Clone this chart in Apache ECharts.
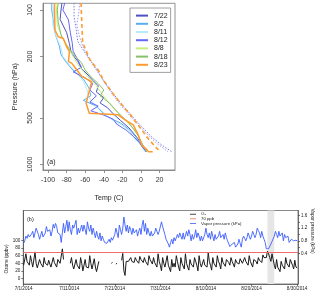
<!DOCTYPE html>
<html><head><meta charset="utf-8">
<script src="https://cdn.jsdelivr.net/npm/echarts@6/dist/echarts.min.js"></script>
<style>html,body{margin:0;padding:0;background:#fff}#c{width:320px;height:296px}</style>
</head><body><div id="c"></div>
<script>
// ---------- Panel (a): temperature profiles ----------
const tempTicks = [-100, -80, -60, -40, -20, 0, 20];
const pressureTicks = [100, 200, 500, 1000];
const profileNames = ['7/22', '8/2', '8/11', '8/12', '8/8', '8/18', '8/23'];
const profileColors = ['#4f4fc4', '#58aef2', '#b4ecfa', '#6666f6', '#c8f07e', '#86bf6a', '#ff9a30'];

const p0722 = [90, 100, 115, 140, 165, 190, 215, 240, 260, 285, 310, 340, 370, 400, 430, 470, 520, 580, 640, 700, 770, 828];
const t0722 = [-85, -86, -87, -80, -77, -75, -68, -64, -58, -52, -46, -48, -40, -44, -36, -30, -22, -13, -7, -2, 2, 5];
const p0802 = [90, 100, 120, 145, 170, 195, 220, 250, 280, 320, 360, 385, 420, 460, 500, 540, 600, 660, 720, 780, 828];
const t0802 = [-96, -96, -94, -92, -88, -86, -80, -72, -62, -56, -54, -62, -48, -42, -34, -22, -12, -6, -1, 3, 6];
const p0811 = [90, 100, 125, 150, 175, 200, 230, 260, 290, 330, 370, 410, 450, 490, 520, 560, 610, 670, 730, 790, 828];
const t0811 = [-93, -94, -95, -91, -86, -84, -76, -68, -62, -58, -56, -50, -42, -36, -30, -20, -12, -8, -2, 2, 4];
const p0812 = [90, 100, 116, 140, 163, 185, 210, 235, 252, 275, 300, 330, 360, 395, 420, 450, 480, 510, 550, 600, 660, 720, 780, 828];
const t0812 = [-82, -84, -78, -76, -74, -73, -68, -64, -73, -60, -52, -55, -48, -55, -46, -54, -40, -30, -26, -16, -8, -2, 2, 6];
const p0808 = [90, 100, 125, 150, 175, 200, 225, 250, 280, 310, 350, 390, 430, 470, 520, 570, 630, 690, 750, 828];
const t0808 = [-90, -91, -90, -85, -78, -73, -68, -62, -55, -48, -42, -36, -30, -24, -17, -10, -5, -1, 2, 7];
const p0818 = [90, 100, 120, 145, 170, 195, 220, 245, 270, 300, 330, 360, 400, 440, 480, 530, 590, 650, 710, 770, 828];
const t0818 = [-89, -90, -89, -86, -80, -72, -64, -60, -54, -46, -40, -44, -34, -28, -22, -14, -8, -3, 0, 3, 6];
const p0823 = [90, 100, 135, 149, 153, 173, 186, 216, 221, 245, 268, 292, 355, 402, 467, 478, 516, 556, 645, 751, 800, 828, 828];
const t0823 = [-93, -93, -92.5, -89, -83.5, -80, -77, -78, -74.5, -69, -64, -53, -56.7, -59, -55.6, -24.4, -17, -8.3, -3, 0.8, 6, 8, 12.6];

const pDashOrange = [90, 116, 163, 211, 245, 284, 350, 423, 480, 542, 600, 662, 740, 828];
const tDashOrange = [-64.5, -63.8, -62.7, -54.8, -46, -40.5, -30, -19, -11, -4.6, 1, 6, 13, 20.4];
const pDot1 = [90, 110, 130, 160, 190, 220, 260, 300, 360, 420, 500, 580, 660, 740, 828];
const tDot1 = [-72, -72, -70, -68, -60, -53, -45, -38, -28, -19, -8, 2, 11, 21, 33];
const pDot2 = [90, 105, 125, 150, 175, 200, 240, 290, 350, 420, 500, 580, 660, 740, 828];
const tDot2 = [-66, -67, -69, -66, -62, -57, -48, -40, -31, -21, -10, 0, 9, 18, 29];

const profP = [p0722, p0802, p0811, p0812, p0808, p0818, p0823];
const profT = [t0722, t0802, t0811, t0812, t0808, t0818, t0823];

// ---------- Panel (b): ozone & vapor pressure, 6-hourly from 7/1/2014 ----------
const dateLabels = ['7/1/2014', '7/11/2014', '7/21/2014', '7/31/2014', '8/10/2014', '8/20/2014', '8/30/2014'];
const dateTickDays = [0, 10, 20, 30, 40, 50, 60];
const ozoneTicks = [0, 20, 40, 60, 80, 100];
const vaporTicks = [0.4, 0.8, 1.2, 1.6];
const vaporMinorTicks = [0.4, 0.6, 0.8, 1.0, 1.2, 1.4, 1.6];
const thresholdPpb = 70;
const shadeStartDay = 53.5, shadeEndDay = 55;
const stepDays = 0.25;
const _ = null;
const ozone = [
35,30,65,45, 40,35,60,45, 30,35,70,40, 28,30,50,40, 35,30,55,40,
40,35,48,38, 30,32,55,42, 38,30,50,45, 40,36,78,50, _,_,_,_,
_,40,55,35, 25,20,50,35, 30,25,55,40, 20,22,50,30, 35,28,60,40,
25,20,52,30, 18,15,45,_, _,_,_,_, _,_,_,_, _,40,42,_,
_,38,40,_, _,_,48,66, 20,8,45,50, 45,40,55,45, 50,42,55,48,
45,40,58,50, 48,42,55,45, 40,35,60,50, 45,38,55,42, 40,30,65,45,
35,20,55,40, 30,25,60,35, 35,18,50,30, 40,30,60,45, 30,20,55,40,
35,25,65,40, 30,22,50,38, 40,30,55,45, 35,20,60,40, 30,25,50,35,
40,30,68,45, 35,22,55,40, 40,30,60,45, 38,25,55,42, 40,32,50,45,
42,35,55,45, 40,30,50,42, 45,38,52,48, 40,35,55,45, 42,35,60,45,
40,30,50,45, 45,38,55,48, 50,42,62,55, 60,55,72,65, 55,45,65,50,
35,25,50,30, 30,18,45,35, 35,25,55,40, 40,30,50,45, 35,25,48,30, 28
];
const vapor = [
0.72,0.80,0.95,0.88, 1.00,0.92,0.88,1.02, 1.10,0.90,1.05,1.20, 1.22,1.00,0.85,0.98, 1.10,0.92,0.88,1.05,
1.25,1.10,1.05,1.15, 0.95,1.10,1.32,1.20, 1.35,1.25,1.05,1.00, 1.00,0.75,1.05,1.35, 1.05,1.25,1.45,1.10,
1.40,1.15,1.00,1.30, 1.20,1.32,1.45,1.00, 1.20,1.05,1.00,1.30, 1.10,1.30,1.15,1.00, 1.40,1.20,1.10,1.30,
1.00,1.20,1.05,0.90, 1.10,0.95,0.85,1.05, 0.80,0.95,0.85,0.75, 0.80,0.72,0.70,0.85, 0.75,0.90,0.82,0.80,
1.00,1.20,1.05,0.90, 1.30,1.15,1.00,1.20, 1.55,1.30,1.10,1.30, 1.05,1.25,1.15,1.00, 1.20,1.05,1.00,1.15,
0.95,1.10,1.20,1.00, 1.30,1.45,1.10,1.35, 1.00,1.20,1.05,0.95, 1.10,0.95,0.90,1.05, 1.20,1.10,1.00,1.10,
1.10,1.40,1.25,1.20, 1.00,0.85,0.80,0.70, 0.60,0.75,0.85,0.70, 0.90,0.80,0.75,1.00, 0.90,1.05,1.10,0.85,
1.05,0.85,0.80,1.10, 0.95,1.15,1.00,0.80, 1.00,0.85,0.95,1.15, 0.90,1.05,0.95,0.80, 0.95,0.80,0.75,1.00,
1.20,1.00,0.90,1.05, 0.85,1.10,0.95,0.80, 1.00,0.85,0.80,0.95, 1.10,0.90,0.85,1.00, 0.85,1.05,0.90,0.80,
0.75,0.62,0.60,0.70, 0.65,0.75,0.60,0.55, 0.70,0.85,0.72,0.60, 0.85,0.95,0.88,0.80, 0.90,1.05,0.95,0.85,
0.95,1.10,1.00,0.90, 1.00,1.20,1.12,1.05, 0.90,1.10,0.95,0.85, 0.75,0.55,0.50,0.55, 0.60,0.70,0.78,0.80,
0.95,1.10,1.00,0.90, 1.10,0.95,1.00,1.05, 0.80,1.00,0.90,0.85, 0.95,0.75,0.80,0.85, 0.90,0.80,0.85,0.82, 0.80
];

const FONT = 'Liberation Sans';
const zip = (ts, ps) => ts.map((t, i) => [t, ps[i]]);

const series = [];
profileNames.forEach((name, k) => {
  series.push({
    name, type: 'line', xAxisIndex: 0, yAxisIndex: 0, data: zip(profT[k], profP[k]),
    showSymbol: false, symbol: 'none', color: profileColors[k],
    lineStyle: { width: k === 6 ? 1.5 : 1, color: profileColors[k] }, z: k === 6 ? 4 : 3, silent: true
  });
});
series.push({ name: 'dashO', type: 'line', xAxisIndex: 0, yAxisIndex: 0, data: zip(tDashOrange, pDashOrange),
  showSymbol: false, symbol: 'none', lineStyle: { width: 1.6, color: '#ff9a30', type: [4, 3] }, z: 4, silent: true });
series.push({ name: 'dot1', type: 'line', xAxisIndex: 0, yAxisIndex: 0, data: zip(tDot1, pDot1),
  showSymbol: false, symbol: 'none', lineStyle: { width: 1, color: '#7c7ce6', type: [1.5, 1.5] }, z: 3, silent: true });
series.push({ name: 'dot2', type: 'line', xAxisIndex: 0, yAxisIndex: 0, data: zip(tDot2, pDot2),
  showSymbol: false, symbol: 'none', lineStyle: { width: 1, color: '#a0a0f0', type: [1.5, 1.5] }, z: 3, silent: true });

// panel b
series.push({ name: 'shade', type: 'line', xAxisIndex: 1, yAxisIndex: 1, data: [], z: 1, silent: true,
  markArea: { silent: true, itemStyle: { color: '#e6e6e6' }, data: [[{ xAxis: shadeStartDay }, { xAxis: shadeEndDay }]] } });
series.push({ name: 'O₃', type: 'line', xAxisIndex: 1, yAxisIndex: 1, data: ozone.map((v, i) => [i * stepDays, v]),
  showSymbol: false, symbol: 'none', connectNulls: false, color: '#1a1a1a', lineStyle: { width: 1, color: '#1a1a1a' }, z: 3, silent: true });
series.push({ name: '70 ppb', type: 'line', xAxisIndex: 1, yAxisIndex: 1, data: [], color: '#f26b6b', z: 4, silent: true,
  markLine: { silent: true, symbol: 'none', label: { show: false }, lineStyle: { color: '#f26b6b', width: 1, type: 'solid' },
    data: [{ yAxis: thresholdPpb }] } });
series.push({ name: 'Vapor pressure (kPa)', type: 'line', xAxisIndex: 1, yAxisIndex: 2, data: vapor.map((v, i) => [i * stepDays, v]),
  showSymbol: false, symbol: 'none', color: '#3a5cff', lineStyle: { width: 0.9, color: '#3a5cff' }, z: 3, silent: true });

const axisCol = '#444';
const option = {
  animation: false,
  backgroundColor: '#fff',
  textStyle: { fontFamily: FONT },
  grid: [
    { left: 43, top: 3.3, width: 132, height: 166.7, show: true, borderColor: '#777', borderWidth: 0.8, containLabel: false, outerBoundsMode: 'none' },
    { left: 23.3, top: 210.5, width: 274.7, height: 73.5, show: true, borderColor: '#555', borderWidth: 0.7, containLabel: false, outerBoundsMode: 'none' }
  ],
  xAxis: [
    { type: 'value', gridIndex: 0, min: -105.4, max: 36.6, position: 'bottom',
      name: 'Temp (C)', nameLocation: 'middle', nameGap: 25, nameTextStyle: { fontSize: 7, color: '#222', fontFamily: FONT },
      axisLine: { show: true, onZero: false, lineStyle: { color: '#777', width: 0.8 } },
      axisTick: { show: true, length: 3, customValues: tempTicks, lineStyle: { color: '#777', width: 0.8 } },
      axisLabel: { customValues: tempTicks, margin: 7, fontSize: 7, color: '#333', fontFamily: FONT },
      splitLine: { show: false } },
    { type: 'value', gridIndex: 1, min: -0.07, max: 60.2, position: 'bottom',
      axisLine: { show: true, onZero: false, lineStyle: { color: axisCol, width: 0.7 } },
      axisTick: { show: true, length: 2, customValues: dateTickDays, lineStyle: { color: axisCol, width: 0.7 } },
      axisLabel: { customValues: dateTickDays, margin: 2.5, fontSize: 4.6, color: '#222', fontFamily: FONT,
        formatter: v => dateLabels[dateTickDays.indexOf(Math.round(v))] || '' },
      splitLine: { show: false } }
  ],
  yAxis: [
    { type: 'log', gridIndex: 0, logBase: 10, min: 90.5, max: 1089, inverse: true, position: 'left',
      name: 'Pressure (hPa)', nameLocation: 'middle', nameGap: 24, nameRotate: 90,
      nameTextStyle: { fontSize: 7, color: '#222', fontFamily: FONT },
      axisLine: { show: true, onZero: false, lineStyle: { color: '#777', width: 0.8 } },
      axisTick: { show: true, length: 3, customValues: pressureTicks, lineStyle: { color: '#777', width: 0.8 } },
      axisLabel: { customValues: pressureTicks, rotate: 90, margin: 9, fontSize: 7, color: '#333', fontFamily: FONT,
        formatter: v => String(Math.round(v)) },
      splitLine: { show: false }, minorTick: { show: false } },
    { type: 'value', gridIndex: 1, min: -14.5, max: 178.9, position: 'left',
      axisLine: { show: true, onZero: false, lineStyle: { color: axisCol, width: 0.7 } },
      axisTick: { show: true, length: 2, customValues: ozoneTicks, lineStyle: { color: axisCol, width: 0.7 } },
      axisLabel: { customValues: ozoneTicks, margin: 3, fontSize: 4.6, color: '#222', fontFamily: FONT },
      splitLine: { show: false } },
    { type: 'value', gridIndex: 1, min: -0.563, max: 1.758, position: 'right',
      axisLine: { show: true, onZero: false, lineStyle: { color: axisCol, width: 0.7 } },
      axisTick: { show: true, length: 2, customValues: vaporMinorTicks, lineStyle: { color: axisCol, width: 0.7 } },
      axisLabel: { customValues: vaporTicks, margin: 3, fontSize: 4.6, color: '#222', fontFamily: FONT,
        formatter: v => v.toFixed(1) },
      splitLine: { show: false } }
  ],
  legend: [
    { data: profileNames, orient: 'vertical', left: 130, top: 8, padding: [4, 3, 4, 6],
      borderColor: '#888', borderWidth: 0.8, backgroundColor: '#fff', itemWidth: 12, itemHeight: 2, itemGap: 1,
      icon: 'rect', selectedMode: false, textStyle: { fontSize: 7, lineHeight: 7.2, color: '#222', fontFamily: FONT, padding: [0,0,0,1] } },
    { data: ['O₃', '70 ppb', 'Vapor pressure (kPa)'], orient: 'vertical', left: 190, top: 212, padding: 0,
      itemWidth: 6, itemHeight: 0.8, itemGap: 0.2, icon: 'rect', selectedMode: false,
      textStyle: { fontSize: 4.3, lineHeight: 4.4, color: '#222', fontFamily: FONT } }
  ],
  graphic: [
    { type: 'text', left: 47, top: 159, style: { text: '(a)', fontSize: 7, fill: '#222', fontFamily: FONT } },
    { type: 'text', left: 27, top: 216, style: { text: '(b)', fontSize: 5.5, fill: '#222', fontFamily: FONT } },
    { type: 'text', x: 7, y: 259, rotation: Math.PI / 2,
      style: { text: 'Ozone (ppbv)', fontSize: 4.8, fill: '#222', fontFamily: FONT, align: 'center', verticalAlign: 'middle' } },
    { type: 'text', x: 312, y: 231, rotation: -Math.PI / 2,
      style: { text: 'Vapor pressure (kPa)', fontSize: 4.8, fill: '#222', fontFamily: FONT, align: 'center', verticalAlign: 'middle' } }
  ],
  series
};
const chart = echarts.init(document.getElementById('c'), null, { renderer: 'canvas' });
chart.setOption(option);
</script></body></html>
